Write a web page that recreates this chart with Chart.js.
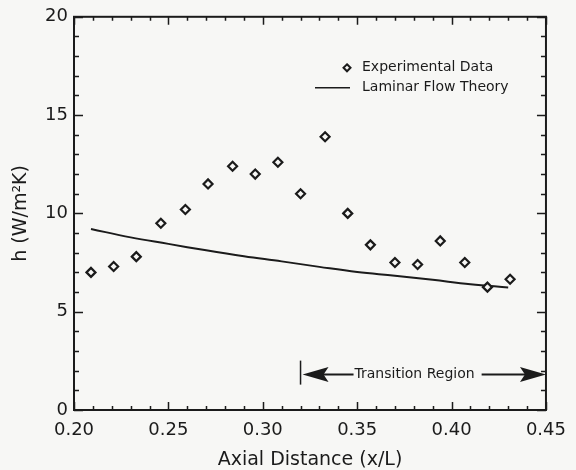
<!DOCTYPE html>
<html><head><meta charset="utf-8">
<script src="https://cdn.jsdelivr.net/npm/chart.js@4/dist/chart.umd.min.js"></script>
<style>html,body{margin:0;padding:0;background:#f7f7f5;}</style>
</head><body>
<canvas id="c" width="576" height="470" style="width:576px;height:470px;display:block"></canvas>
<script>
// ---- data ----
const expX = [0.209,0.221,0.233,0.246,0.259,0.271,0.284,0.296,0.308,0.320,0.333,0.345,0.357,0.370,0.382,0.394,0.407,0.419,0.431];
const expH = [7.0,7.3,7.8,9.5,10.2,11.5,12.4,12.0,12.6,11.0,13.9,10.0,8.4,7.5,7.4,8.6,7.5,6.25,6.65];
const theoryX = [0.209,0.23,0.25,0.27,0.29,0.31,0.33,0.35,0.37,0.39,0.41,0.43];
const theoryH = [9.21,8.78,8.45,8.12,7.82,7.56,7.28,7.02,6.83,6.62,6.40,6.23];
const xTicks = [0.20,0.25,0.30,0.35,0.40,0.45];
const xTickLabels = ['0.20','0.25','0.30','0.35','0.40','0.45'];
const yTicks = [0,5,10,15,20];
const yTickLabels = ['0','5','10','15','20'];
const transitionRange = [0.32, 0.45];
const transitionLevel = 1.8;
const transitionLabel = 'Transition Region';

const INK = '#1b1b1b';
const BG = '#f7f7f5';
const FONT = "'DejaVu Sans', sans-serif";

const decor = {
  id: 'decor',
  beforeDraw(chart) {
    const ctx = chart.ctx;
    ctx.save();
    ctx.fillStyle = BG;
    ctx.fillRect(0, 0, chart.width, chart.height);
    ctx.restore();
  },
  afterDatasetsDraw(chart) {
    const ctx = chart.ctx;
    const a = chart.chartArea;
    const xs = chart.scales.x, ys = chart.scales.y;
    ctx.save();
    ctx.strokeStyle = INK;
    ctx.fillStyle = INK;
    // frame
    ctx.lineWidth = 2;
    ctx.strokeRect(a.left, a.top, a.right - a.left, a.bottom - a.top);
    // inward ticks
    ctx.lineWidth = 1.5;
    ctx.beginPath();
    for (let i = 0; i <= 25; i++) {
      const v = xs.min + i * 0.01;
      const px = Math.round(xs.getPixelForValue(v)) + 0.5;
      const len = (i % 5 === 0) ? 8 : 4;
      ctx.moveTo(px, a.bottom); ctx.lineTo(px, a.bottom - len);
      ctx.moveTo(px, a.top); ctx.lineTo(px, a.top + len);
    }
    for (let j = 0; j <= 20; j++) {
      const py = Math.round(ys.getPixelForValue(j)) + 0.5;
      const len = (j % 5 === 0) ? 9 : 5;
      ctx.moveTo(a.left, py); ctx.lineTo(a.left + len, py);
      ctx.moveTo(a.right, py); ctx.lineTo(a.right - len, py);
    }
    ctx.stroke();

    // legend
    const ds = chart.data.datasets;
    ctx.font = "14px " + FONT;
    ctx.textBaseline = 'middle';
    ctx.textAlign = 'left';
    const lx = a.left + 288, ly1 = a.top + 51, ly2 = a.top + 71;
    ctx.lineWidth = 2;
    ctx.beginPath();
    const dx = lx - 15, r = 3.5;
    ctx.moveTo(dx, ly1 - r); ctx.lineTo(dx + r, ly1); ctx.lineTo(dx, ly1 + r); ctx.lineTo(dx - r, ly1); ctx.closePath();
    ctx.stroke();
    ctx.fillText(ds[0].label, lx, ly1);
    ctx.beginPath();
    ctx.lineWidth = 1.5;
    ctx.moveTo(lx - 47, ly2); ctx.lineTo(lx - 12, ly2);
    ctx.stroke();
    ctx.fillText(ds[1].label, lx, ly2);

    // transition region annotation
    const x0 = xs.getPixelForValue(transitionRange[0]);
    const x1 = xs.getPixelForValue(transitionRange[1]);
    const yA = ys.getPixelForValue(transitionLevel);
    ctx.lineWidth = 1.5;
    ctx.beginPath();
    ctx.moveTo(x0, yA - 14); ctx.lineTo(x0, yA + 10);
    ctx.stroke();
    ctx.font = "14px " + FONT;
    const tw = ctx.measureText(transitionLabel).width;
    const tx = x0 + 54;
    ctx.fillText(transitionLabel, tx, yA);
    ctx.lineWidth = 2;
    ctx.beginPath();
    ctx.moveTo(x0 + 20, yA); ctx.lineTo(tx - 1, yA);
    ctx.moveTo(tx + tw + 7, yA); ctx.lineTo(x1 - 20, yA);
    ctx.stroke();
    // arrowheads
    ctx.beginPath();
    ctx.moveTo(x0 + 2, yA); ctx.lineTo(x0 + 28, yA - 7.5); ctx.lineTo(x0 + 23, yA); ctx.lineTo(x0 + 28, yA + 7.5); ctx.closePath();
    ctx.fill();
    ctx.beginPath();
    ctx.moveTo(x1, yA); ctx.lineTo(x1 - 26, yA - 7.5); ctx.lineTo(x1 - 21, yA); ctx.lineTo(x1 - 26, yA + 7.5); ctx.closePath();
    ctx.fill();
    ctx.restore();
  }
};

new Chart(document.getElementById('c'), {
  type: 'scatter',
  data: {
    datasets: [
      {
        label: 'Experimental Data',
        data: expX.map((x, i) => ({x: x, y: expH[i]})),
        pointStyle: 'rectRot',
        pointRadius: 4.5,
        pointBorderWidth: 2.2,
        borderColor: INK,
        backgroundColor: BG,
        showLine: false
      },
      {
        label: 'Laminar Flow Theory',
        data: theoryX.map((x, i) => ({x: x, y: theoryH[i]})),
        showLine: true,
        borderColor: INK,
        borderWidth: 2,
        pointRadius: 0,
        tension: 0.4,
        fill: false
      }
    ]
  },
  options: {
    responsive: false,
    animation: false,
    layout: { padding: { top: 12, right: 21, bottom: 0, left: 0 } },
    plugins: { legend: { display: false }, tooltip: { enabled: false } },
    scales: {
      x: {
        type: 'linear', min: 0.2, max: 0.45,
        afterBuildTicks: s => { s.ticks = xTicks.map(v => ({value: v})); },
        afterFit: s => { s.height = 60; },
        grid: { display: false, drawTicks: false },
        border: { display: false },
        ticks: {
          callback: (v, i) => xTickLabels[i],
          font: { family: FONT, size: 18 }, color: INK, padding: 10,
          maxRotation: 0, autoSkip: false
        },
        title: { display: true, text: 'Axial Distance (x/L)', color: INK,
          font: { family: FONT, size: 19, lineHeight: 1 }, padding: 0 }
      },
      y: {
        type: 'linear', min: 0, max: 20,
        afterBuildTicks: s => { s.ticks = yTicks.map(v => ({value: v})); },
        afterFit: s => { s.width = 74; },
        grid: { display: false, drawTicks: false },
        border: { display: false },
        ticks: {
          callback: (v, i) => yTickLabels[i],
          font: { family: FONT, size: 18 }, color: INK, padding: 6
        },
        title: { display: true, text: 'h (W/m²K)', color: INK,
          font: { family: FONT, size: 19, lineHeight: 1 }, padding: 12 }
      }
    }
  },
  plugins: [decor]
});
</script>
</body></html>
